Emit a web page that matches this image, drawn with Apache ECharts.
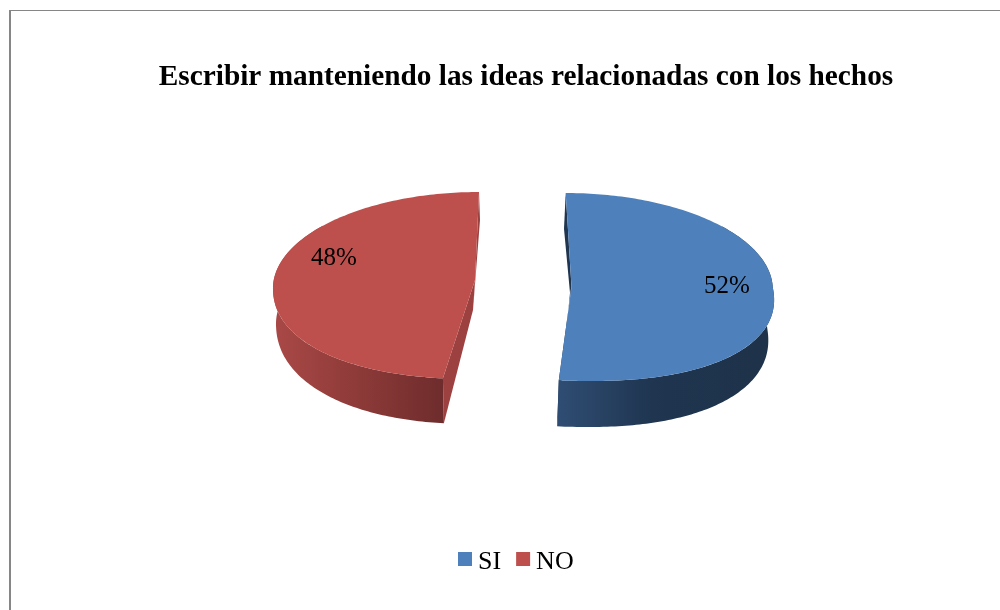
<!DOCTYPE html>
<html>
<head>
<meta charset="utf-8">
<style>html,body{margin:0;padding:0;background:#fff}#c{width:1000px;height:610px}</style>
<script src="https://cdn.jsdelivr.net/npm/echarts@6/dist/echarts.min.js"></script>
</head>
<body>
<div id="c"></div>
<script>
var titleText = 'Escribir manteniendo las ideas relacionadas con los hechos';
var categories = ['SI', 'NO'];
var values = [52, 48];
var colors = ['#4e80bb', '#bd4f4c'];

// Drawing geometry of each exploded, tilted slice (not data).
var geometry = {
  SI: {
    top: {cx: 570.7, cy: 287, rx: 202, ry: 94, ryBack: 94, back: -5, front: 18.8},
    bottom: {cx: 570.7, cy: 328, rx: 196.5, ry: 99, ryBack: 99, back: -6.7, front: 16.3},
    apex: [571.5, 287], apexB: [570, 293],
    wallFrom: 50, wallTo: null,
    wall: {x: 557, x2: 770, stops: [[0, '#2f4d73'], [0.45, '#1f3550'], [1, '#1e3249']]},
    cut: '#1f3550',
    label: [727, 286]
  },
  NO: {
    top: {cx: 475, cy: 286.5, rx: 202, ry: 92.5, ryBack: 94.5, back: 4, front: -1.5},
    bottom: {cx: 475, cy: 322, rx: 199, ry: 102, ryBack: 102, back: 5, front: -1},
    apex: [475, 280], apexB: [473, 310],
    wallFrom: null, wallTo: 310,
    wall: {x: 278, x2: 444, stops: [[0, '#a84846'], [0.5, '#8c3a38'], [1, '#6e2c2c']]},
    cut: '#9c413f',
    label: [334, 258]
  }
};
var frontExponent = 2 / 2.2;

var total = values.reduce(function (a, b) { return a + b; }, 0);

function rim(e, deg) {
  var t = deg * Math.PI / 180;
  var s = Math.sin(t), c = -Math.cos(t);
  if (c > 0) {
    s = (s < 0 ? -1 : 1) * Math.pow(Math.abs(s), frontExponent);
    c = Math.pow(c, frontExponent);
  }
  var shift = c < 0 ? -c * e.back : c * e.front;
  return [e.cx + e.rx * s + shift, e.cy + (c < 0 ? e.ryBack : e.ry) * c];
}
function arc(e, a, b) {
  var pts = [], n = Math.ceil(Math.abs(b - a));
  for (var i = 0; i <= n; i++) pts.push(rim(e, a + (b - a) * i / n));
  return pts;
}
function poly(points, fill) {
  return {type: 'polygon', shape: {points: points}, style: {fill: fill}, silent: true};
}

function sliceSeries(idx) {
  var name = categories[idx];
  var before = 0;
  for (var i = 0; i < idx; i++) before += values[i];
  return {
    type: 'custom',
    name: name,
    coordinateSystem: 'none',
    itemStyle: {color: colors[idx]},
    data: [[values[idx]]],
    silent: true,
    renderItem: function (params, api) {
      var g = geometry[name];
      var start = before / total * 360;
      var end = start + api.value(0) / total * 360;
      var wa = g.wallFrom === null ? start : g.wallFrom;
      var wb = g.wallTo === null ? end : g.wallTo;
      var wallFill = {
        type: 'linear', global: true, x: g.wall.x, y: 0, x2: g.wall.x2, y2: 0,
        colorStops: g.wall.stops.map(function (s) { return {offset: s[0], color: s[1]}; })
      };
      var children = [
        poly([rim(g.top, start), rim(g.bottom, start), g.apexB, g.apex], g.cut),
        poly([rim(g.top, end), rim(g.bottom, end), g.apexB, g.apex], g.cut),
        poly(arc(g.top, wa, wb).concat(arc(g.bottom, wb, wa)), wallFill),
        poly([g.apex].concat(arc(g.top, start, end)), colors[idx]),
        {
          type: 'text', silent: true,
          style: {
            x: g.label[0], y: g.label[1],
            text: Math.round(api.value(0) / total * 100) + '%',
            fill: '#000', align: 'center', verticalAlign: 'middle',
            font: '25px "Liberation Serif"'
          }
        }
      ];
      return {type: 'group', children: children};
    }
  };
}

var chart = echarts.init(document.getElementById('c'), null, {renderer: 'canvas'});
chart.setOption({
  animation: false,
  backgroundColor: '#fff',
  title: {
    text: titleText,
    left: 521, top: 58, textAlign: 'center',
    textStyle: {fontFamily: 'Liberation Serif', fontWeight: 'bold', fontSize: 29.3, color: '#000'}
  },
  legend: {
    data: categories,
    left: 453, top: 544,
    icon: 'rect', itemWidth: 14, itemHeight: 14, itemGap: 15,
    selectedMode: false,
    formatter: '{t|{name}}',
    textStyle: {
      fontFamily: 'Liberation Serif', fontSize: 26, color: '#000',
      rich: {t: {fontFamily: 'Liberation Serif', fontSize: 26, color: '#000', padding: [6, 0, 0, 1]}}
    }
  },
  graphic: [
    {type: 'rect', silent: true, shape: {x: 9, y: 10, width: 991, height: 1}, style: {fill: '#868686'}},
    {type: 'rect', silent: true, shape: {x: 9, y: 10, width: 2, height: 600}, style: {fill: '#868686'}}
  ],
  series: categories.map(function (c, i) { return sliceSeries(i); })
});
</script>
</body>
</html>
